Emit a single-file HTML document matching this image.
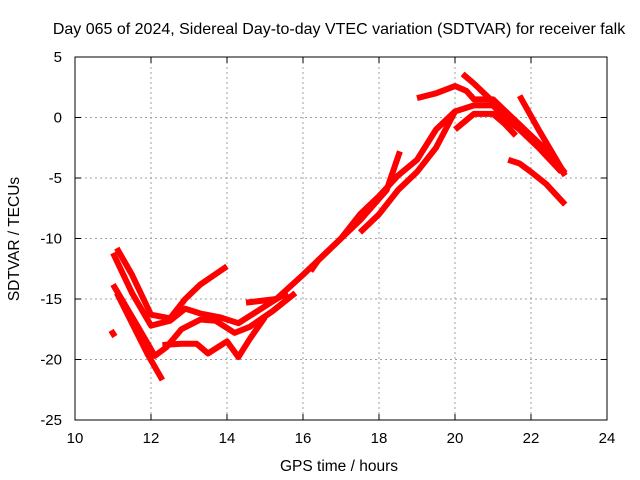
<!DOCTYPE html>
<html><head><meta charset="utf-8"><style>
body{margin:0;background:#fff}
svg{display:block;font-family:"Liberation Sans",sans-serif}
</style></head><body>
<svg id="chart" width="640" height="480">
<text x="339" y="34" text-anchor="middle" font-size="16">Day 065 of 2024, Sidereal Day-to-day VTEC variation (SDTVAR) for receiver falk</text>
<text x="339" y="471" text-anchor="middle" font-size="15.5">GPS time / hours</text>
<text transform="translate(19,239) rotate(-90)" text-anchor="middle" font-size="15.5">SDTVAR / TECUs</text>
<g id="grid"></g><g id="series"></g>
<rect x="75" y="57" width="532" height="363" fill="none" stroke="#000"/>
</svg>
<script>
const xTicks=[10,12,14,16,18,20,22,24];
const yTicks=[5,0,-5,-10,-15,-20,-25];
const sA=[[11.1,-10.8],[11.5,-13],[12.0,-16.3],[12.5,-16.6],[12.9,-15],[13.3,-13.8],[14.0,-12.3]];
const sB=[[11.0,-11.2],[11.5,-14.5],[12.0,-17.2],[12.5,-16.8],[12.9,-15.8],[13.3,-16.2],[13.8,-16.5],[14.3,-17],[14.8,-16],[15.3,-15],[15.6,-14.5]];
const sC=[[11.0,-13.8],[11.6,-17],[12.1,-19.7],[12.4,-19],[12.8,-17.5],[13.3,-16.7],[13.7,-16.8],[14.2,-17.8],[14.6,-17.3],[15.2,-16],[15.8,-14.5]];
const sD=[[11.1,-14.5],[11.5,-17],[11.9,-19.5],[12.3,-21.7]];
const sE=[[12.3,-18.8],[12.8,-18.7],[13.2,-18.7],[13.5,-19.5],[14.0,-18.5],[14.3,-19.8],[14.6,-18.3],[15.0,-16.5]];
const sDot=[[10.95,-17.6],[11.05,-18.1]];
const sF=[[14.5,-15.3],[15.3,-15],[16.0,-13],[16.5,-11.5],[17.0,-10],[17.5,-8],[18.0,-6.5],[18.5,-4.8],[19.0,-3.5],[19.5,-1],[20.0,0.5],[20.5,1],[21.0,1],[21.3,0],[21.7,-1],[22.2,-2.5],[22.8,-4.5]];
const sG=[[16.2,-12.7],[16.4,-11.8],[17.0,-10],[17.5,-8.5],[18.2,-6],[18.55,-2.8]];
const sH=[[17.5,-9.5],[18.0,-8],[18.5,-6],[19.0,-4.5],[19.5,-2.5],[20.0,0.5]];
const sI=[[19.0,1.6],[19.5,2],[20.0,2.6],[20.3,2.2],[20.5,1.5],[21.0,1.5],[21.5,0],[22.0,-1.5],[22.5,-3],[22.9,-4.8]];
const sJ=[[20.2,3.6],[20.5,2.8],[21.0,1.3],[21.5,0],[22.0,-1.5],[22.5,-3],[22.9,-4.6]];
const sK=[[20.0,-1],[20.5,0.3],[21.0,0.3],[21.3,-0.5],[21.6,-1.5]];
const sL=[[21.7,1.8],[22.2,-1],[22.8,-4.2]];
const sM=[[21.4,-3.5],[21.7,-3.8],[22.0,-4.5],[22.4,-5.5],[22.9,-7.2]];
const seriesList=[sA,sB,sC,sD,sE,sDot,sF,sG,sH,sI,sJ,sK,sL,sM];
const X=h=>75+(h-10)*38, Y=v=>57+(5-v)*12.1;
const NS="http://www.w3.org/2000/svg";
const grid=document.getElementById('grid'), ser=document.getElementById('series');
xTicks.forEach(t=>{
  if(t>10&&t<24){const l=document.createElementNS(NS,'line');l.setAttribute('x1',X(t));l.setAttribute('x2',X(t));l.setAttribute('y1',57);l.setAttribute('y2',420);l.setAttribute('stroke','#a0a0a0');l.setAttribute('stroke-dasharray','2,3');
  
  grid.appendChild(l);}
  [[420,414],[57,63]].forEach(p=>{const k=document.createElementNS(NS,'line');k.setAttribute('x1',X(t));k.setAttribute('x2',X(t));k.setAttribute('y1',p[0]);k.setAttribute('y2',p[1]);k.setAttribute('stroke','#000');
  
  grid.appendChild(k);});
  const tx=document.createElementNS(NS,'text');tx.setAttribute('x',X(t));tx.setAttribute('y',443);tx.setAttribute('text-anchor','middle');tx.setAttribute('font-size','15');tx.textContent=t;
  
  grid.appendChild(tx);
});
yTicks.forEach(t=>{
  if(t<5&&t>-25){const l=document.createElementNS(NS,'line');l.setAttribute('x1',75);l.setAttribute('x2',607);l.setAttribute('y1',Y(t));l.setAttribute('y2',Y(t));l.setAttribute('stroke','#a0a0a0');l.setAttribute('stroke-dasharray','2,3');
  
  grid.appendChild(l);}
  [[75,81],[607,601]].forEach(p=>{const k=document.createElementNS(NS,'line');k.setAttribute('x1',p[0]);k.setAttribute('x2',p[1]);k.setAttribute('y1',Y(t));k.setAttribute('y2',Y(t));k.setAttribute('stroke','#000');
  
  grid.appendChild(k);});
  const tx=document.createElementNS(NS,'text');tx.setAttribute('x',62);tx.setAttribute('y',Y(t)+5);tx.setAttribute('text-anchor','end');tx.setAttribute('font-size','15');tx.textContent=t;
  
  grid.appendChild(tx);
});
seriesList.forEach(s=>{
  const p=document.createElementNS(NS,'polyline');
  p.setAttribute('points',s.map(d=>X(d[0])+','+Y(d[1])).join(' '));
  p.setAttribute('fill','none');p.setAttribute('stroke','#ff0000');p.setAttribute('stroke-width','6');p.setAttribute('stroke-linejoin','round');
  
  
  ser.appendChild(p);
});
</script>
</body></html>
